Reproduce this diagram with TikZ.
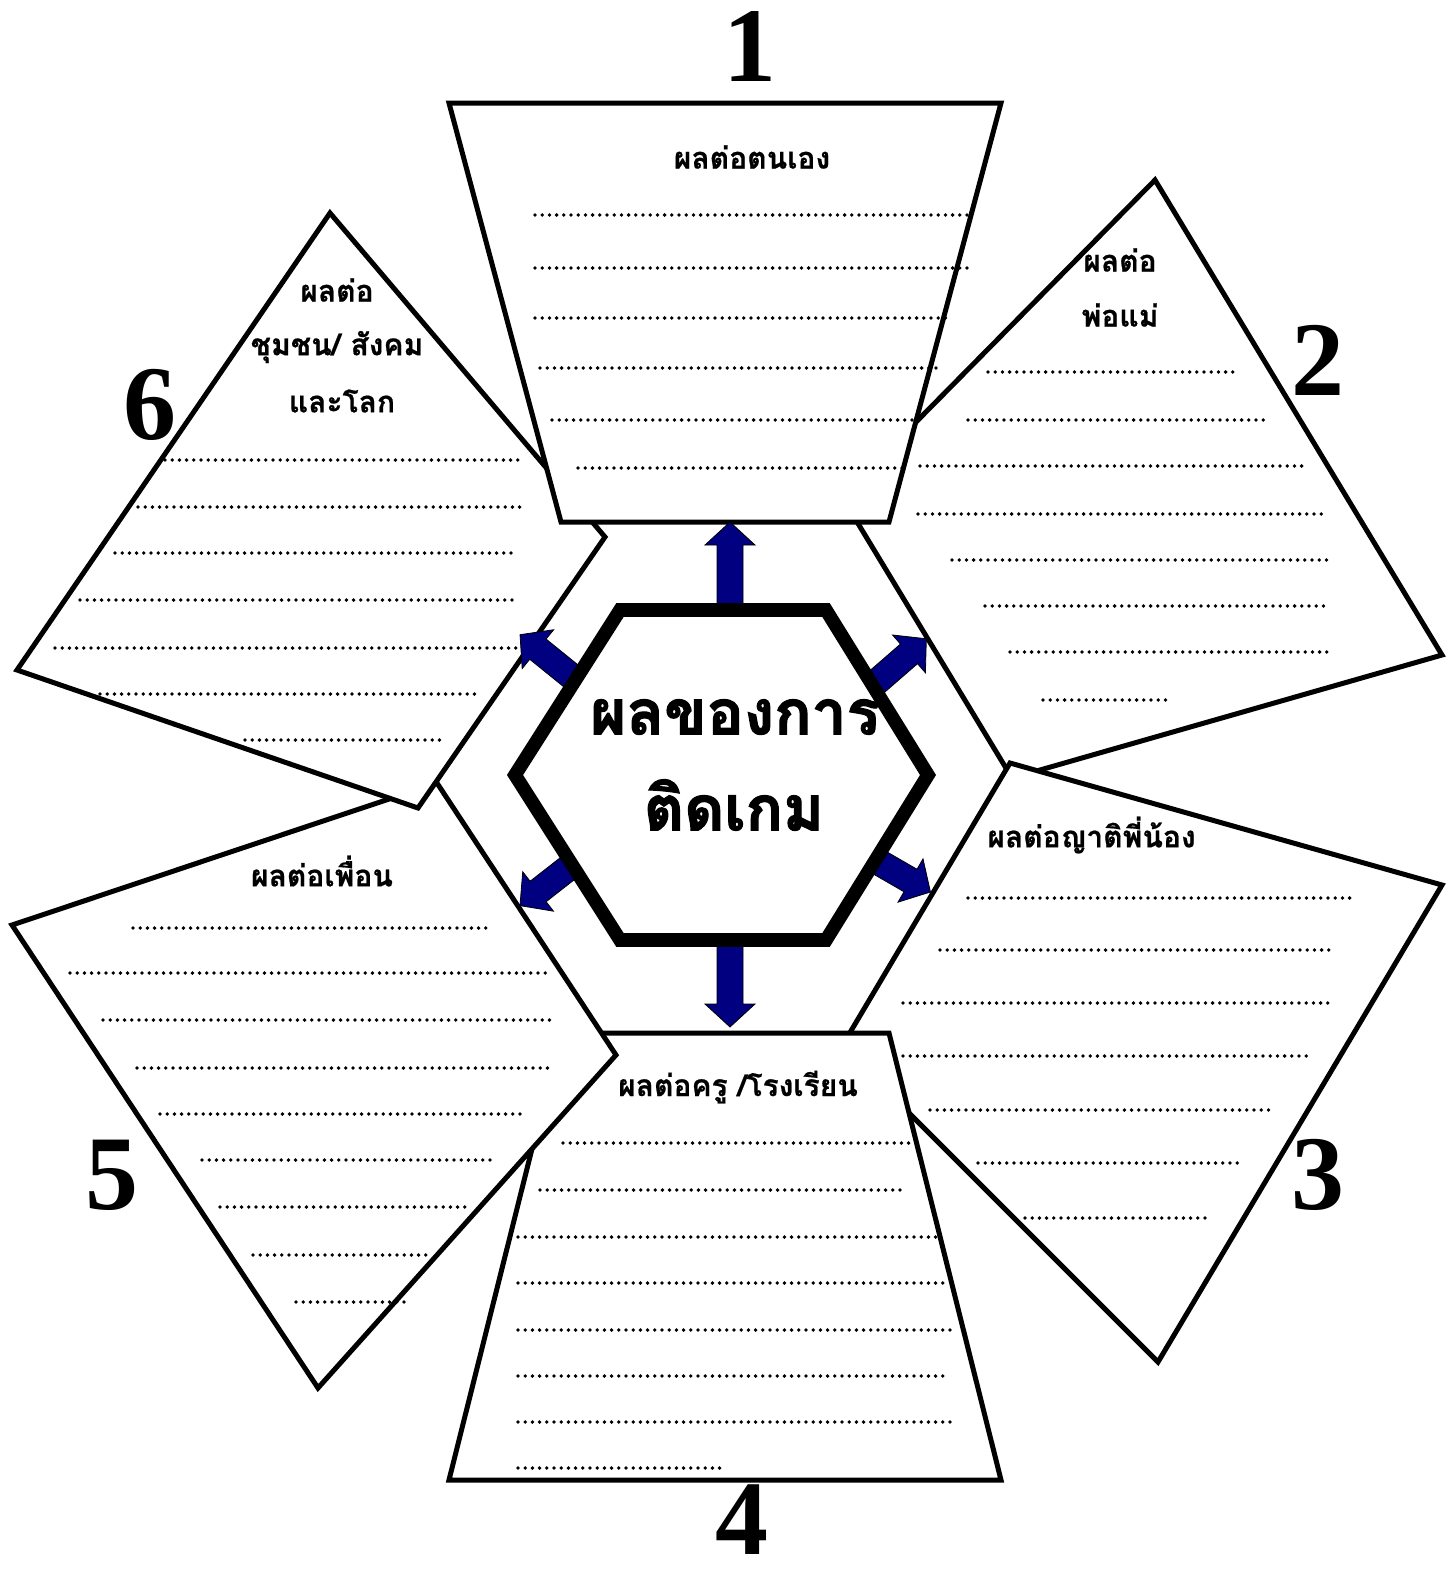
\documentclass[tikz,border=0pt]{standalone}
\usepackage{fontspec}
\usepackage{tikz}
\newfontfamily\thaifont[Script=Thai, UprightFont={* Bold}, FakeBold=0.6]{Loma}
\newfontfamily\thaiheavy[Script=Thai, UprightFont={* Bold}, FakeBold=2]{Loma}
\newfontfamily\numfont{Liberation Serif}
\definecolor{navyarrow}{RGB}{0,0,128}

\begin{document}
\begin{tikzpicture}[x=0.5pt, y=-0.5pt,
    panel/.style={draw, line width=2.5pt, fill=white, line join=miter},
    dotrow/.style={line width=1.9pt, line cap=round, dash pattern=on 0pt off 3.6pt},
    lbl/.style={font=\thaifont\fontsize{15}{18}\selectfont, inner sep=0pt},
    bignum/.style={font=\numfont\bfseries\fontsize{53}{53}\selectfont, inner sep=0pt},
    outarrow/.style={fill=navyarrow, draw=black, line width=0.4pt}]

    \useasboundingbox (0,0) rectangle (1455,1569);

    % Paneles (el orden importa: unos tapan a otros)
    \draw[panel] (1155,180) -- (1442,655) -- (1012,778) -- (842,497) -- cycle;
    \draw[panel] (1010,763) -- (1442,885) -- (1158,1362) -- (842,1046) -- cycle;
    \draw[panel] (561,1033) -- (889,1033) -- (1001,1480) -- (449,1480) -- cycle;
    \draw[panel] (437,783) -- (616,1055) -- (318,1388) -- (12,925) -- cycle;
    \draw[panel] (330,213) -- (17,670) -- (418,808) -- (605,537) -- cycle;
    \draw[panel] (449,103) -- (1001,103) -- (889,522) -- (561,522) -- cycle;

    % Lineas de puntos
    \foreach \y/\xa/\xb in {215/535/968, 268/535/968, 318/535/948, 368/540/938, 420/552/925, 468/578/905}
        \draw[dotrow] (\xa,\y) -- (\xb,\y);
    \foreach \y/\xa/\xb in {372/988/1238, 420/968/1270, 466/920/1305, 514/918/1328, 560/952/1328, 606/985/1330, 652/1010/1330, 700/1043/1168}
        \draw[dotrow] (\xa,\y) -- (\xb,\y);
    \foreach \y/\xa/\xb in {898/968/1350, 950/940/1335, 1003/903/1335, 1056/903/1308, 1110/930/1272, 1163/978/1238, 1218/1025/1208}
        \draw[dotrow] (\xa,\y) -- (\xb,\y);
    \foreach \y/\xa/\xb in {1143/563/912, 1190/540/903, 1237/518/940, 1283/518/945, 1330/518/955, 1376/518/950, 1422/518/953, 1468/518/723}
        \draw[dotrow] (\xa,\y) -- (\xb,\y);
    \foreach \y/\xa/\xb in {928/133/493, 973/70/548, 1020/103/555, 1068/137/553, 1114/160/523, 1160/202/497, 1207/220/465, 1255/253/430, 1302/296/410}
        \draw[dotrow] (\xa,\y) -- (\xb,\y);
    \foreach \y/\xa/\xb in {460/165/522, 507/138/520, 553/115/515, 600/80/515, 648/55/520, 694/100/478, 740/245/440}
        \draw[dotrow] (\xa,\y) -- (\xb,\y);

    % Titulos de los paneles
    \node[lbl] (self) at (752,157) {ผลต่อตนเอง};
    \node[lbl] (parentsA) at (1120,260) {ผลต่อ};
    \node[lbl] (parentsB) at (1120,315) {พ่อแม่};
    \node[lbl, anchor=west] (kin) at (987,835) {ผลต่อญาติพี่น้อง};
    \node[lbl] (school) at (738,1087) {ผลต่อครู /โรงเรียน};
    \node[lbl] (friends) at (322,871) {ผลต่อเพื่อน};
    \node[lbl] (worldA) at (337,290) {ผลต่อ};
    \node[lbl] (worldB) at (337,347) {ชุมชน/ สังคม};
    \node[lbl] (worldC) at (342,401) {และโลก};

    % Numeros
    \node[bignum] (n1) at (750,47) {1};
    \node[bignum] (n2) at (1318,360) {2};
    \node[bignum] (n3) at (1318,1175) {3};
    \node[bignum] (n4) at (742,1520) {4};
    \node[bignum] (n5) at (112,1175) {5};
    \node[bignum] (n6) at (150,405) {6};

    % Flechas
    \foreach \bx/\by/\ang/\len in {730/610/90/88, 730/940/-90/87, 872/686/41/72, 576/680/141/72, 572/865/218/66, 875/860/-30/64}
    {
        \begin{scope}[shift={(\bx,\by)}, rotate=\ang]
            \draw[outarrow] (0,-13) -- ({\len-23},-13) -- ({\len-23},-25) -- (\len,0)
                -- ({\len-23},25) -- ({\len-23},13) -- (0,13) -- cycle;
        \end{scope}
    }

    % Hexagono central
    \draw[line width=6.8pt, fill=white, line join=miter] (515,775) -- (620,610) -- (826,610)
        -- (928,775) -- (826,940) -- (620,940) -- cycle;
    \node[font=\thaiheavy\fontsize{31}{36}\selectfont, inner sep=0pt] (titleA) at (735,717) {ผลของการ};
    \node[font=\thaiheavy\fontsize{31}{36}\selectfont, inner sep=0pt] (titleB) at (734,805) {ติดเกม};
\end{tikzpicture}
\end{document}
